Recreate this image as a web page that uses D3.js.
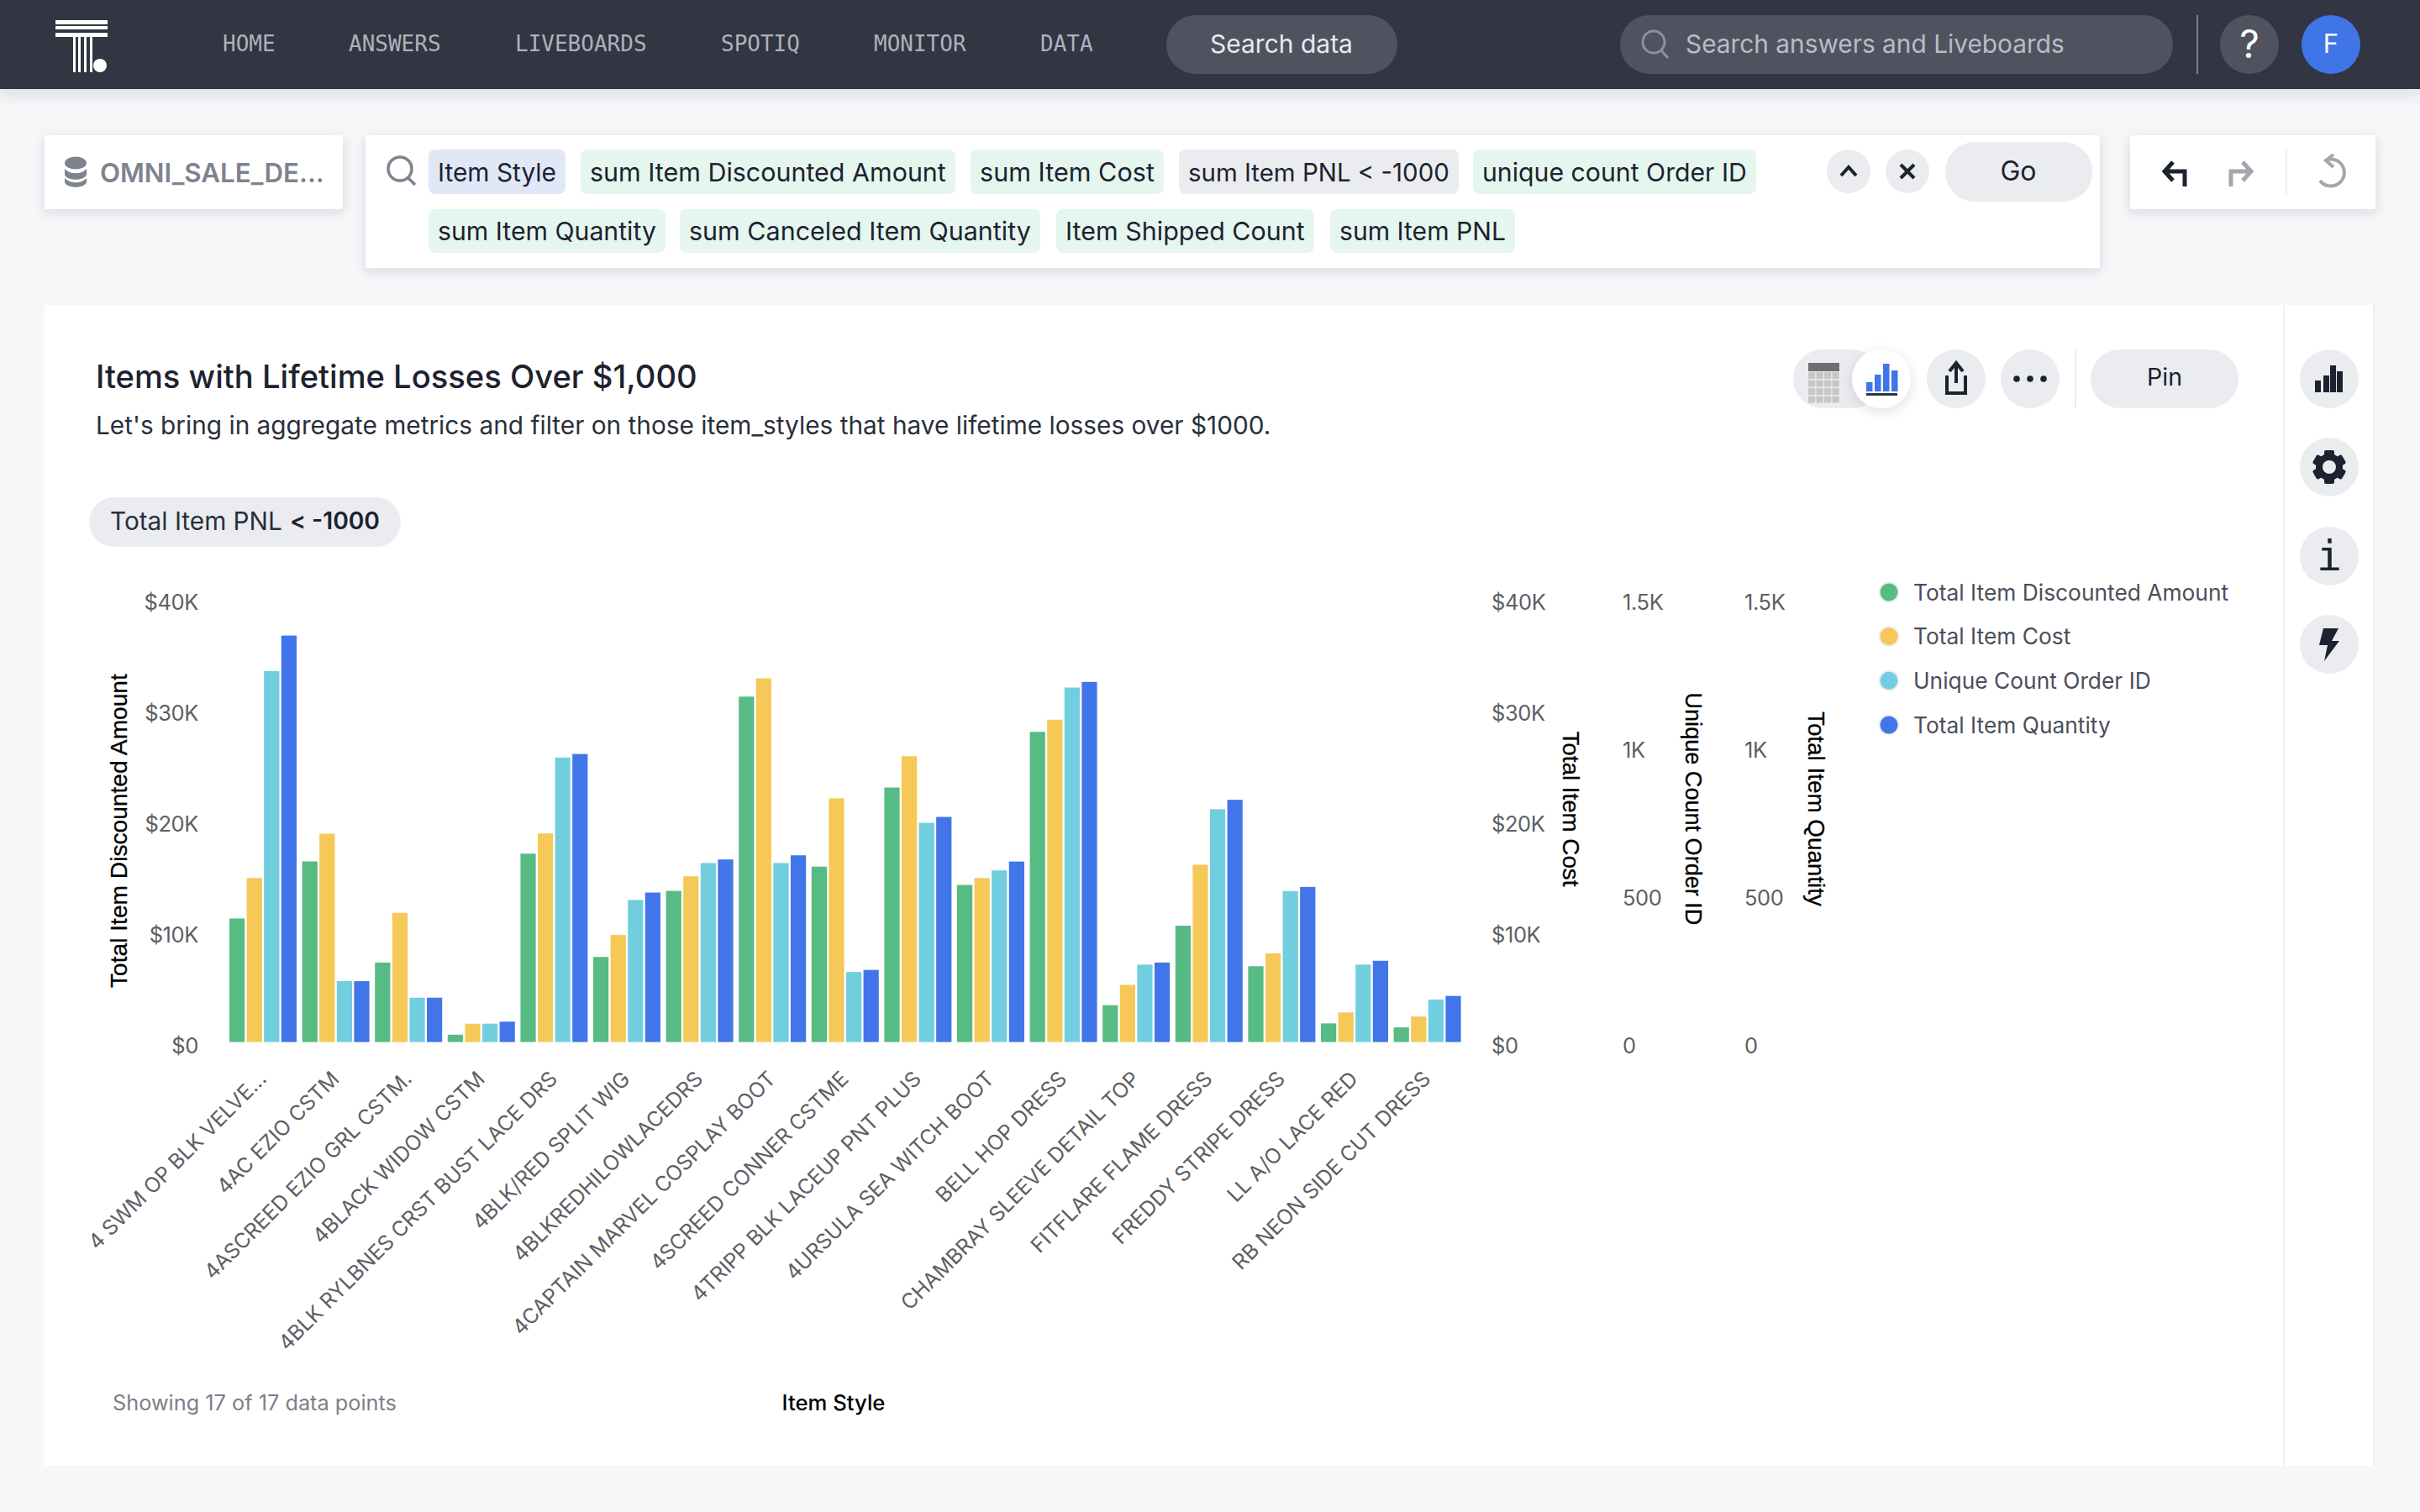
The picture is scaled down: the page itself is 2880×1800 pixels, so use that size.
<![CDATA[<!DOCTYPE html>
<html><head><meta charset="utf-8"><title>Items with Lifetime Losses Over $1,000</title>
<script src="https://cdnjs.cloudflare.com/ajax/libs/d3/7.8.5/d3.min.js"></script>
<style>html,body{margin:0;padding:0;background:#f6f7f9}svg{display:block;font-family:Inter,"Noto Sans",sans-serif}</style>
</head><body><svg id="c" width="2880" height="1800" viewBox="0 0 2880 1800"></svg>
<script>
// ---- data ----
const itemStyles=["4 SWM OP BLK VELVE...","4AC EZIO CSTM","4ASCREED EZIO GRL CSTM.","4BLACK WIDOW CSTM","4BLK RYLBNES CRST BUST LACE DRS","4BLK/RED SPLIT WIG","4BLKREDHILOWLACEDRS","4CAPTAIN MARVEL COSPLAY BOOT","4SCREED CONNER CSTME","4TRIPP BLK LACEUP PNT PLUS","4URSULA SEA WITCH BOOT","BELL HOP DRESS","CHAMBRAY SLEEVE DETAIL TOP","FITFLARE FLAME DRESS","FREDDY STRIPE DRESS","LL A/O LACE RED","RB NEON SIDE CUT DRESS"];
const discounted=[11150,16300,7170,660,17000,7680,13640,31180,15830,22970,14180,28000,3330,10500,6840,1680,1320];
const cost=[14800,18800,11660,1650,18830,9660,14960,32830,22000,25800,14800,29100,5160,16000,8000,2670,2300];
const orders=[1256,206,150,62,963,481,606,606,237,742,581,1200,262,788,511,262,144];
const quantity=[1376,206,150,69,975,506,618,632,244,762,611,1219,269,820,525,275,156];
const seriesNames=["Total Item Discounted Amount","Total Item Cost","Unique Count Order ID","Total Item Quantity"];
const seriesColors=["#57bb84","#f5c857","#71cedf","#4175e9"];
const moneyTicks=[0,10000,20000,30000,40000];
const countTicks=[0,500,1000,1500];
const chipsRow1=["Item Style","sum Item Discounted Amount","sum Item Cost","sum Item PNL < -1000","unique count Order ID"];
const chipsRow2=["sum Item Quantity","sum Canceled Item Quantity","Item Shipped Count","sum Item PNL"];
const navItems=["HOME","ANSWERS","LIVEBOARDS","SPOTIQ","MONITOR","DATA"];

const svg=d3.select("#c");
const defs=svg.append("defs");
function shadow(id,dy,b,op){const f=defs.append("filter").attr("id",id).attr("x","-20%").attr("y","-30%").attr("width","140%").attr("height","180%");
 f.append("feDropShadow").attr("dx",0).attr("dy",dy).attr("stdDeviation",b).attr("flood-color","#30343f").attr("flood-opacity",op);}
shadow("s1",6,9,.13);shadow("s2",4,7,.14);

function R(x,y,w,h,fill,r=0,p=svg){return p.append("rect").attr("x",x).attr("y",y).attr("width",w).attr("height",h).attr("fill",fill).attr("rx",r).attr("ry",r);}
function C(x,y,r,fill,p=svg){return p.append("circle").attr("cx",x).attr("cy",y).attr("r",r).attr("fill",fill);}
function T(s,x,y,size,fill,o={}){const t=(o.p||svg).append("text").attr("x",x).attr("y",y).attr("dy",".36em").attr("font-size",size).attr("fill",fill).attr("text-anchor",o.a||"start").attr("font-weight",o.w||400).text(s);
 if(o.f)t.attr("font-family",o.f); if(o.ls)t.attr("letter-spacing",o.ls);
 if(o.fit){const m=t.node().getComputedTextLength();t.attr("font-size",size*o.fit/m);}
 return t;}
function P(d,o={}){const e=svg.append("path").attr("d",d).attr("fill",o.fill||"none");if(o.s)e.attr("stroke",o.s).attr("stroke-width",o.sw||4).attr("stroke-linejoin","miter");return e;}
const dark="#1d2230",pill="#ebecf0";

// ---- nav ----
R(0,0,2880,106,"#323642").attr("filter","url(#s1)");
R(66,24,62,5,"#fff");R(66,31,62,4,"#fff");R(66,39,62,5,"#fff");
[87,93,100,107].forEach(x=>R(x,44,3,42,"#fff"));
C(119,78,8,"#fff");
const navX=[265,415,613,858,1040,1238];
navItems.forEach((n,i)=>T(n,navX[i],52,26,"#aeb1bb",{f:"'DejaVu Sans Mono'"}));
R(1388,18,275,70,"#50535f",35);
T("Search data",1440,52,31,"#e8e9ec",{fit:170});
R(1928,18,658,70,"#50535f",35);
svg.append("circle").attr("cx",1968).attr("cy",50).attr("r",13).attr("fill","none").attr("stroke","#8d909b").attr("stroke-width",3);
P("M1977 60L1985 69",{s:"#8d909b",sw:3});
T("Search answers and Liveboards",2006,52,31,"#b9bcc6",{fit:451});
R(2614,18,2,70,"#7d808a");
C(2677,53,35,"#50535f");T("?",2677,52,46,"#fff",{a:"middle",w:400});
C(2774,53,35,"#3f75e6");T("F",2774,52,31,"#fff",{a:"middle"});

// ---- search row ----
R(53,161,355,88,"#fff",3).attr("filter","url(#s2)");
R(435,161,2064,158,"#fff",3).attr("filter","url(#s2)");
R(2535,161,292,88,"#fff",3).attr("filter","url(#s2)");
// database icon
svg.append("ellipse").attr("cx",90).attr("cy",194).attr("rx",13).attr("ry",7.5).attr("fill","#7f838e");
P("M77 201V207C77 216 103 216 103 207V201C97 208 83 208 77 201Z",{fill:"#7f838e"});
P("M77 212V216C77 225 103 225 103 216V212C97 219 83 219 77 212Z",{fill:"#7f838e"});
T("OMNI_SALE_DE...",119,206,32,"#7f838e",{w:600,fit:267});
svg.append("circle").attr("cx",476).attr("cy",201).attr("r",14).attr("fill","none").attr("stroke","#7f838e").attr("stroke-width",3.5);
P("M486 212L494 220",{s:"#7f838e",sw:3.5});
const row1=[[510,673,"#e0e7f7"],[691,1137,"#e5f6ee"],[1155,1385,"#e5f6ee"],[1403,1736,"#ebecf0"],[1753,2090,"#e5f6ee"]];
const row2=[[510,792,"#e5f6ee"],[809,1238,"#e5f6ee"],[1257,1564,"#e5f6ee"],[1583,1803,"#e5f6ee"]];
function chips(labels,geo,y,h){labels.forEach((l,i)=>{const [a,b,col]=geo[i];R(a,y,b-a,h,col,8);T(l,a+11,y+h/2+.5,31,"#1d2230",{fit:b-a-22});});}
chips(chipsRow1,row1,178,53);chips(chipsRow2,row2,249,52);
C(2200,204,26,pill);P("M2191 209L2200 199L2209 209",{s:dark,sw:4});
C(2270,204,26,pill);P("M2262 196L2278 212M2278 196L2262 212",{s:dark,sw:4});
R(2315,169,175,71,pill,35);T("Go",2402,203,32,dark,{a:"middle"});
P("M2600 222V204H2578M2586 193L2576 204L2586 215",{s:dark,sw:5});
P("M2655 222V204H2677M2669 193L2679 204L2669 215",{s:"#a4a6ac",sw:5});
R(2720,178,2,53,"#eceef0");
P("M2770 190A16 16 0 1 1 2761 215M2777 184L2768 191L2777 199",{s:"#a4a6ac",sw:4});

// ---- card ----
R(53,363,2773,1382,"#fff");
R(2717,363,2,1382,"#f0f1f3");R(2824,363,2,1382,"#eff0f2");
T("Items with Lifetime Losses Over $1,000",114,448,40,"#1d2230",{w:500,fit:716});
T("Let's bring in aggregate metrics and filter on those item_styles that have lifetime losses over $1000.",114,506,31,"#2a2f3c",{fit:1399});
R(106,592,371,59,pill,29.5);
T("Total Item PNL ",131,620,30,"#2a2f3c",{fit:205});
T("< -1000",345,620,30,"#1d2230",{w:600,fit:107});

// toolbar
R(2134,416,105,70,pill,35);
R(2152,432,37,10,"#6f6f6f");
for(let i=0;i<4;i++)for(let j=0;j<4;j++)R(2152+j*9.5,443+i*9.5,8.2,8,"#c6c6c6");
C(2239,451,35,"#fff").attr("filter","url(#s2)");
[[2221,455],[2231,446],[2241,433],[2251,441]].forEach(a=>R(a[0],a[1],7.5,466-a[1],"#3f75e6"));
R(2221,468,37,3,"#30343f");
C(2328,451,35,pill);P("M2317 447V468H2339V447M2328 456V434M2320 442L2328 432L2336 442",{s:dark,sw:4});
C(2416,451,35,pill);[2400,2416,2432].forEach(x=>C(x,451,3.8,dark));
R(2469,416,2,70,"#e9eaed");
R(2488,416,176,70,pill,35);T("Pin",2576,449,32,dark,{a:"middle",fit:42});
[451,556,662,767].forEach(y=>C(2772,y,35,pill));
[[2755,453,7,14],[2765,447,7,20],[2773,435,7,32],[2781,442,7,25]].forEach(a=>R(a[0],a[1],a[2],a[3],dark));
// gear
d3.range(3).forEach(i=>svg.append("rect").attr("x",2766).attr("y",536).attr("width",12).attr("height",40).attr("rx",2).attr("fill",dark).attr("transform",`rotate(${i*60} 2772 556)`));
C(2772,556,16,dark);C(2772,556,8,pill);
T("i",2772,661,50,dark,{a:"middle",f:"'DejaVu Sans Mono'"});
P("M2765 748H2783L2775 763H2784L2766 787L2770 768H2760Z",{fill:dark});

// ---- chart ----
const plotBottom=1240.5, plotTop=713;
const x=d3.scaleBand().domain(itemStyles).range([269.2,1741.4]);
const sub=d3.scaleBand().domain(d3.range(4)).range([0,80]).paddingInner(.115);
const yMoney=d3.scaleLinear().domain([0,40000]).range([plotBottom,plotTop]);
const yCount=d3.scaleLinear().domain([0,1500]).range([plotBottom,plotTop]);
const seriesVals=[discounted,cost,orders,quantity];
const seriesScale=[yMoney,yMoney,yCount,yCount];
const chart=svg.append("g");
seriesVals.forEach((vals,s)=>{
 chart.append("g").selectAll("rect").data(vals).join("rect")
  .attr("x",(d,i)=>x(itemStyles[i])+3.8+sub(s))
  .attr("width",sub.bandwidth())
  .attr("y",d=>seriesScale[s](d))
  .attr("height",d=>plotBottom-seriesScale[s](d))
  .attr("fill",seriesColors[s]);
});
const fmtMoney=d=>d===0?"$0":"$"+d/1000+"K";
const fmtCount=d=>d===0?"0":d>=1000?d/1000+"K":String(d);
function axis(gen,tx,anchor){const g=svg.append("g").attr("transform",`translate(${tx},4.5)`).call(gen);
 g.select(".domain").remove();g.selectAll(".tick line").remove();
 g.selectAll("text").attr("x",0).attr("font-size",25.5).attr("letter-spacing",-.4).attr("font-family","Inter").attr("fill","#5d5f64").attr("text-anchor",anchor);return g;}
axis(d3.axisLeft(yMoney).tickValues(moneyTicks).tickFormat(fmtMoney).tickSize(0),236,"end");
axis(d3.axisRight(yMoney).tickValues(moneyTicks).tickFormat(fmtMoney).tickSize(0),1775,"start");
axis(d3.axisRight(yCount).tickValues(countTicks).tickFormat(fmtCount).tickSize(0),1931,"start");
axis(d3.axisRight(yCount).tickValues(countTicks).tickFormat(fmtCount).tickSize(0),2076,"start");
// category labels
svg.append("g").selectAll("text").data(itemStyles).join("text")
 .attr("transform",d=>`translate(${x(d)+x.bandwidth()/2+6},1286) rotate(-45)`)
 .attr("text-anchor","end").attr("font-size",24.9).attr("fill","#5d5f64").text(d=>d);
function axTitle(s,tx,ty,rot,len){const sy=rot<0?ty+len/2:ty-len/2;
 const t=svg.append("text").attr("x",tx).attr("y",sy).attr("transform",`rotate(${rot} ${tx} ${sy})`).attr("text-anchor","start").attr("dy",".36em").attr("font-size",26).attr("font-family","'Liberation Sans'").attr("fill","#000").attr("stroke","#000").attr("stroke-width",.3).text(s);
 const m=t.node().getComputedTextLength();t.attr("font-size",26*len/m);}
axTitle("Total Item Discounted Amount",141,989,-90,374);
axTitle("Total Item Cost",1870,963,90,185);
axTitle("Unique Count Order ID",2016,963,90,277);
axTitle("Total Item Quantity",2162,963,90,232);
// legend
const ly=d3.scalePoint().domain(seriesNames).range([705,863]);
const leg=svg.append("g").selectAll("g").data(seriesNames).join("g").attr("transform",d=>`translate(2248,${ly(d)})`);
leg.append("circle").attr("r",11.5).attr("fill",(d,i)=>seriesColors[i]).attr("stroke","#eceef1").attr("stroke-width",2);
leg.append("text").attr("x",29).attr("dy",".36em").attr("font-size",26.35).attr("fill","#4b4e5a").text(d=>d);
// footer
T("Showing 17 of 17 data points",134,1670,27,"#7c8089",{fit:338});
T("Item Style",992,1670,27,"#000",{a:"middle",w:500,fit:123});
</script></body></html>]]>
